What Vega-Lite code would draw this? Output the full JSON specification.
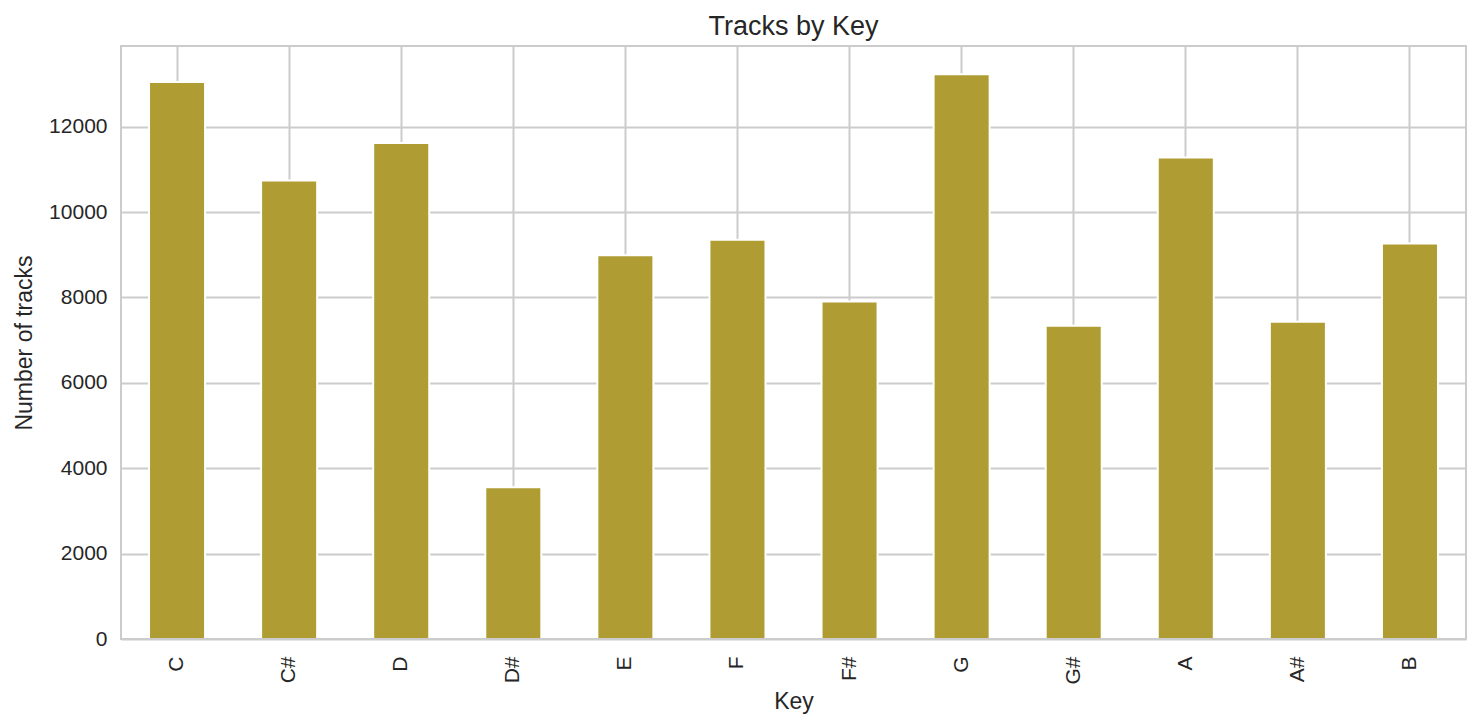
{
  "$schema": "https://vega.github.io/schema/vega-lite/v6.json",
  "autosize": {"type": "none"},
  "padding": {"left": 121, "top": 46, "right": 13, "bottom": 88},
  "width": 1345,
  "height": 593,
  "background": "white",
  "config": {
    "font": "Liberation Sans",
    "view": {"stroke": "#cccccc", "strokeWidth": 2},
    "axis": {
      "gridColor": "#cccccc",
      "gridWidth": 2,
      "gridOpacity": 1,
      "ticks": false,
      "domain": false,
      "labelFont": "Liberation Sans",
      "labelFontSize": 21,
      "labelColor": "#262626",
      "titleFont": "Liberation Sans",
      "titleFontSize": 23,
      "titleFontWeight": "normal",
      "titleColor": "#262626"
    },
    "title": {
      "font": "Liberation Sans",
      "fontSize": 27,
      "fontWeight": "normal",
      "color": "#262626"
    }
  },
  "title": {"text": "Tracks by Key", "anchor": "middle", "offset": 5},
  "data": {
    "values": [
      {"key": "C", "tracks": 13047},
      {"key": "C#", "tracks": 10739},
      {"key": "D", "tracks": 11620},
      {"key": "D#", "tracks": 3556},
      {"key": "E", "tracks": 8986},
      {"key": "F", "tracks": 9354},
      {"key": "F#", "tracks": 7906},
      {"key": "G", "tracks": 13228},
      {"key": "G#", "tracks": 7336},
      {"key": "A", "tracks": 11279},
      {"key": "A#", "tracks": 7430},
      {"key": "B", "tracks": 9261}
    ]
  },
  "layer": [
    {
      "mark": {"type": "bar", "color": "#af9d33", "stroke": "white", "strokeWidth": 2},
      "encoding": {
        "x": {
          "field": "key",
          "type": "nominal",
          "sort": null,
          "title": "Key",
          "scale": {"paddingInner": 0.5, "paddingOuter": 0.25},
          "axis": {
            "labelAngle": 270,
            "labelAlign": "right",
            "labelBaseline": "middle",
            "labelPadding": 17,
            "bandPosition": 0.5,
            "grid": true,
            "titlePadding": 6
          }
        },
        "y": {
          "field": "tracks",
          "type": "quantitative",
          "title": "Number of tracks",
          "scale": {"domain": [0, 13890], "nice": false, "zero": true},
          "axis": {
            "values": [0, 2000, 4000, 6000, 8000, 10000, 12000],
            "format": "d",
            "labelPadding": 14,
            "titlePadding": 12,
            "grid": true
          }
        }
      }
    },
    {
      "mark": {"type": "rule", "color": "#cccccc", "strokeWidth": 2},
      "encoding": {
        "y": {"datum": 0, "type": "quantitative"}
      }
    }
  ]
}
